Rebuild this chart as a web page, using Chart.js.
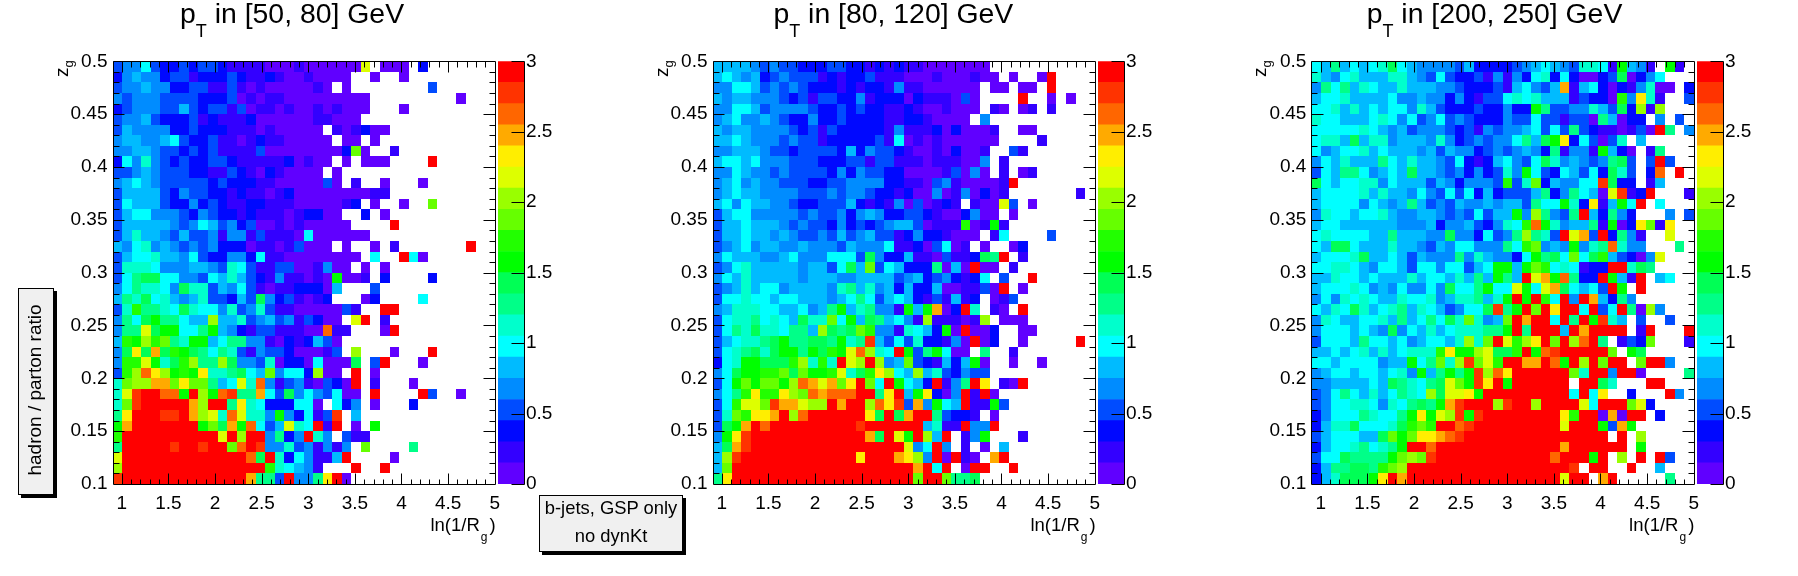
<!DOCTYPE html>
<html><head><meta charset="utf-8">
<script src="https://cdn.jsdelivr.net/npm/chart.js@4"></script>
<style>
html,body{margin:0;padding:0;background:#fff}
#page{position:relative;width:1798px;height:576px;overflow:hidden;font-family:"Liberation Sans",Arial,sans-serif;color:#000}
canvas{position:absolute}
.t{position:absolute;white-space:nowrap;line-height:1}
.box{position:absolute;background:#f0f0f0;border:1px solid #000;box-shadow:3px 3px 0 #000;box-sizing:border-box}
</style></head><body><div id="page"></div>
<script>
// Palette bands of the z scale, bottom to top
const bandColors=["#6000ff","#3300ff","#0008ff","#004cff","#008cff","#00bbff","#00ffff","#00ffcc","#00ff88","#00ff55","#00ff00","#22ff00","#66ff00","#99ff00","#ddff00","#ffee00","#ffaa00","#ff6600","#ff3300","#ff0000"];
const bandStep=0.15;
const bandCodes="0123456789abcdefghij";
const xTickLabels=[1,1.5,2,2.5,3,3.5,4,4.5,5];
const yTickLabels=[0.1,0.15,0.2,0.25,0.3,0.35,0.4,0.45,0.5];
const zTickLabels=[0,0.5,1,1.5,2,2.5,3];
const xRange=[0.9,5], yRange=[0.1,0.5], zRange=[0,3];
const nBins=40;

// Ratio read per cell, as a palette band code, one line per zg row from 0.5 down to 0.1; "." = empty
const rowsPt50=[
"3446322323 3211110001 000000e.00 0.2.......",
"2454423312 2232112100 1000 0..0.. 0.........",
"3445442233 1131010000 010.0..... ...3......",
"4344433332 2230101100 0000000... ......0...",
"2344433532 3313011010 0101000... 0.........",
"3445322231 2111200000 011000.... ..........",
"3544442232 2211101000 00.101200. ..........",
"4554456322 3110121100 000.00.0.. ..........",
"4455433232 3111130000 00002c0..1 ..........",
"2647432322 3321111120 100.0.000. ...j......",
"3345433322 1132102100 00.0...... ..........",
"4565433333 2322211000 0030.1..0. ..0.......",
"3555532433 2212110120 000000011. ..........",
"3655532242 3211221110 000012.0.. 0..c......",
"3566444324 3221211101 2200..2.0. ..........",
"3555554346 5342300101 00000....j ..........",
"3575543533 4144131110 6000000... ..........",
"5467454343 4222011013 000.0..0.1 .......j..",
"3566755463 2244261100 000000.6.. j60.......",
"3777644455 4376311330 01400.0.0. ..........",
"3689966443 6575321411 010a001.2. ...2......",
"4687764977 3546310112 2205...3.. ..........",
"5879675457 3325394231 012...02.. ..6.......",
"37b8876976 6473473110 000031..jj ..........",
"4869a88655 d557345341 3200.ej.1. ..........",
"488e9aa668 a542133111 00h11...0j ..........",
"5badbc87aa 5688441021 2530...... ..........",
"49f9g9ba98 6873143320 0013.d...0 ...j......",
"4bbea79bd8 8d94437022 060009.3j. ..0.......",
"3bdhfdabaf 778965c466 2d00.j.0.. ..........",
"7cddggcfcc 856e7h4134 10320j.1.. .0........",
"7eijjhhajd ahi88g6394 643600.j.. ..j3..0...",
"7cijjjjjgd jj8f762226 60.624.0.. .2........",
"8fjjjiijgd e7he774a42 613i.5.... ..........",
"agjjjjjjja c9gah635e7 6j1j.0.a.. ..........",
"bjjjjjjjjj jejdjj4824 j74.311... ..........",
"8jjjjjijji jjchji4473 41414.c... .8........",
"ejjjjjjjjj jjjjh9j726 4115j....0 ..........",
"djjjjjjjjj jjjjjjb765 41...j..j. ..........",
"ijjjjjjjjj jjjjg883j4 48fj0..... .........."
];
const rowsPt80=[
"5555434332 2233221212 110000000. ..........",
"5654523433 3121223111 0001000100 .0..0j....",
"4466534343 2221212214 11000000.0 0.00.j....",
"5455444323 1332241222 02111030.. ..j..0.0..",
"4466534444 3223232211 21001000.1 0.01.1....",
"4564454322 4223222211 2210000.4. ..........",
"5455444432 3132222214 1112020001 ..00......",
"5565444343 3122222316 0101000000 ....1.....",
"4455543323 3332524332 100102001. .31.......",
"5665644433 3222331331 110111004. 1.........",
"4465443433 3324243322 000013040. 1.01......",
"4564544333 2233444422 1103410000 1j........",
"4565544443 3343443221 2004014020 1.......1.",
"5646554432 2333521214 030121.100 e3.0......",
"3566444443 4334245422 3321002400 .0........",
"3556555434 3324232345 530111b01a 1.........",
"3556554543 3435345331 24221000.1 6....3....",
"3456455445 4443544461 1203601.0. .02.......",
"4655544564 4466639422 5110311298 j.1.......",
"3467555554 553695c365 2228050j00 .1........",
"4657555554 5554455553 452342126. 3..j......",
"3457566455 5547857452 5225001130 j.0.......",
"3667665665 5545686356 52131512.0 13........",
"4577766556 458a578441 a5ag02j7.1 0.j.......",
"3677867659 77c6a59856 41d11101d. 000.......",
"3687977688 5d989cb441 7652a0j002 ..00......",
"3567789a88 998a78i536 3722140j02 ..0.....j.",
"3678979aa8 a9baehd76j a38a600.8. .1........",
"267aa999bd 7b7jedjd45 c321525a0. .0..0.....",
"469aabbc9c aabe79bfd6 5d5732433. ..........",
"36acaccadh gegcfjc6ja 652j148jf. 10j.......",
"468bfbbfdc hghhhjj8fj 5af204j1j0 ..........",
"36beecigge ddjgjjdhfi 3g4a65j11a 3.........",
"37cbffgjdh jjjjjjf9j9 gjj83221.0 ..........",
"39agjhjjjj jjjjjijjjj jj5711j44j ..........",
"4afijjjjjj jjjjjjg9je ajd5j.14a. ..1.......",
"59gijjjjjj jjjjjjjjjj e46j4.1.0. 5.........",
"5dijjjjjjj jjjjjfjjjg fd4j0j10.g j.........",
"5cjjjjjjjj jjjjjjjjjj jgj6j.0jj. .j........",
"8fjjjjjjjj jjjjjjjjjj jcjjc889.. .........."
];
const rowsPt200=[
"6585656796 5444435222 2345654377 61a541.a1.",
"7546755577 5436322314 1426726200 2390246...",
"4868576557 5554432223 156435g156 20214700.2",
"5667555564 4544242133 6767555132 20b4f71..3",
"6675756566 4753222322 422a833447 5392d1d...",
"7665556764 6346343222 4336331330 85022.4.3.",
"6666676545 3444323143 4456363832 110130j8.4",
"6775957745 5547423434 46859af263 037.5.....",
"6456675655 5453544234 3454281441 a520.18...",
"4657555865 7554362125 6436974543 4893.3j3..",
"3658864565 9554342423 74a6326536 2973.2h.j.",
"9656677465 5535424443 b37c254466 i922.15...",
"5666675755 4643636252 3335824865 0ei12j...1",
"5666646545 8534354454 553866a72f 15a6j.6...",
"4766566754 4554343635 5a4d8438j5 2842...4.3",
"5665555554 4452445324 76bha74558 1a02fc1f..",
"6766665585 5544944263 48d873jeg3 j2841..e..",
"6599655575 5435466444 86bc454a47 8h744...8.",
"5666795565 3544484754 426a896c69 b53204e...",
"6677654665 366466356a a5acb67612 2jj798....",
"5576656555 756657585a 85jegah822 ja51j.56..",
"5666764546 44649668a6 6ea6eg9656 3ja.j.....",
"4647676557 6674577857 ajajb6j4jg 5284......",
"6576975678 576534669i 8ajcjfjj6j 36j80d4...",
"4765566758 568697c745 cjgjj6j8ja i75.3..3..",
"4666565494 6575677788 aj8jjj5jgj jjj.1j...j",
"3666586656 456657d7cj ebdfjcjdhj 8.132c...1",
"5565675756 777bfaade9 9bjahijjjj jc.a9.....",
"6656666455 a68c7diceb jjggjhajdj cjj.cjj4..",
"4566566567 4a58a8aidh fjjjjjjc7j j4jj0....8",
"4455556598 7689ecaifj ajjjjjj.jj 97...jj...",
"3468657568 76d9eefajj jjjjjjj6j6 f..2...j4.",
"3466776476 898agijjjd ijjdjjjje6 jjjce2....",
"2466687668 afaediaijj jjjjjjfbjj 0g0jj.2...",
"2577966679 bcbjjhijjj jjjjjjejjj a3ga......",
"35666559ca cffghijjjj jjjjjjjjjj j.j.d.....",
"256678678a jjhjjjjjjj jjjjjjgjjj jjj.a.....",
"36698888ac dcijjjjjjj jjjjjhjjja j.d.j.j3..",
"2588998bcd jjjjjjjjjj jjjjjjji.j j..j..5...",
"257999afjg jjjjjjjjjj jjjjjjejj. gj.....8.."
];

const xBin=(xRange[1]-xRange[0])/nBins, yBin=(yRange[1]-yRange[0])/nBins;
function toCells(rows){
  const pts=[];
  rows.forEach((line,r)=>{
    const s=line.replace(/\s/g,'');
    for(let c=0;c<nBins;c++){
      const k=bandCodes.indexOf(s[c]);
      if(k<0) continue;
      pts.push({x:xRange[0]+(c+0.5)*xBin,y:yRange[1]-(r+0.5)*yBin,v:(k+0.5)*bandStep});
    }
  });
  return pts;
}
function colorOf(v){return bandColors[Math.min(bandColors.length-1,Math.floor(v/bandStep))];}

const heatCells={id:'heatCells',beforeDatasetsDraw(chart){
  const {ctx,scales:{x,y}}=chart;
  ctx.save();
  chart.data.datasets[0].data.forEach(p=>{
    const x0=Math.round(x.getPixelForValue(p.x-xBin/2)),x1=Math.round(x.getPixelForValue(p.x+xBin/2));
    const y0=Math.round(y.getPixelForValue(p.y+yBin/2)),y1=Math.round(y.getPixelForValue(p.y-yBin/2));
    ctx.fillStyle=colorOf(p.v);
    ctx.fillRect(x0,y0,x1-x0,y1-y0);
  });
  ctx.restore();
}};
function line(ctx,a,b,c,d){ctx.moveTo(Math.round(a)+.5,Math.round(b)+.5);ctx.lineTo(Math.round(c)+.5,Math.round(d)+.5);}
const frameTicks={id:'frameTicks',afterDatasetsDraw(chart){
  const {ctx,chartArea:A,scales:{x,y}}=chart;
  ctx.save();ctx.strokeStyle='#000';ctx.lineWidth=1;ctx.beginPath();
  for(let i=1;i<=40;i++){
    const v=0.9+i*0.1;const isM=i%5===1; if(v>5.001)break;
    const px=x.getPixelForValue(v),L=isM?11:5.5;
    line(ctx,px,A.bottom,px,A.bottom-L);line(ctx,px,A.top,px,A.top+L);
  }
  for(let i=1;i<40;i++){
    const v=0.1+i*0.01,isM=i%5===0;const py=y.getPixelForValue(v),L=isM?11.5:6;
    line(ctx,A.left,py,A.left+L,py);line(ctx,A.right,py,A.right-L,py);
  }
  line(ctx,A.left,A.top,A.right,A.top);line(ctx,A.right,A.top,A.right,A.bottom);
  line(ctx,A.right,A.bottom,A.left,A.bottom);line(ctx,A.left,A.bottom,A.left,A.top);
  ctx.stroke();ctx.restore();
}};
const barTicks={id:'barTicks',afterDatasetsDraw(chart){
  const {ctx,chartArea:A,scales:{y}}=chart;
  ctx.save();ctx.strokeStyle='#000';ctx.beginPath();
  line(ctx,A.right,A.top,A.right,A.bottom);
  zTickLabels.forEach(v=>{const py=y.getPixelForValue(v);line(ctx,A.right,py,A.right-13,py);});
  ctx.stroke();ctx.restore();
}};
const tickFont={family:'"Liberation Sans",Arial,sans-serif',size:19};
const page=document.getElementById('page');

function addCanvas(l,t,w,h){const c=document.createElement('canvas');c.width=w;c.height=h;c.style.left=l+'px';c.style.top=t+'px';c.style.width=w+'px';c.style.height=h+'px';page.appendChild(c);return c;}

function panel(cfg){
  const cx=Math.floor(cfg.left)-60, axisW=48, axisH=40, H=545;
  const W=Math.ceil(cfg.right)-cx+12;
  new Chart(addCanvas(cx,0,W,H),{
    type:'scatter',
    data:{datasets:[{label:cfg.title,data:toCells(cfg.rows),pointRadius:0,showLine:false}]},
    plugins:[heatCells,frameTicks],
    options:{responsive:false,animation:false,events:[],clip:false,
      layout:{padding:{left:cfg.left-cx-axisW,right:W-(cfg.right-cx),top:cfg.top,bottom:H-cfg.bottom-axisH}},
      plugins:{legend:{display:false},tooltip:{enabled:false},title:{display:false}},
      scales:{
        x:{type:'linear',min:xRange[0],max:xRange[1],grid:{display:false,drawTicks:false},border:{display:false},
          afterBuildTicks(s){s.ticks=xTickLabels.map(value=>({value}));},
          afterFit(s){s.height=axisH;},
          ticks:{color:'#000',font:tickFont,padding:8,maxRotation:0,autoSkip:false,callback:v=>String(v)}},
        y:{type:'linear',min:yRange[0],max:yRange[1],grid:{display:false,drawTicks:false},border:{display:false},
          afterBuildTicks(s){s.ticks=yTickLabels.map(value=>({value}));},
          afterFit(s){s.width=axisW;},
          ticks:{color:'#000',font:tickFont,padding:5,autoSkip:false,callback:v=>String(v)}}
      }}
  });
  // colour scale
  const bx=cfg.barLeft-1, bW=cfg.barRight-bx+45;
  new Chart(addCanvas(bx,0,bW,H),{
    type:'bar',
    data:{labels:[''],datasets:bandColors.map(c=>({data:[bandStep],backgroundColor:c,borderWidth:0,stack:'z',barPercentage:1,categoryPercentage:1}))},
    plugins:[barTicks],
    options:{responsive:false,animation:false,events:[],
      layout:{padding:{left:1,right:0,top:cfg.top,bottom:H-cfg.bottom}},
      plugins:{legend:{display:false},tooltip:{enabled:false}},
      scales:{
        x:{display:false,stacked:true},
        y:{type:'linear',position:'right',stacked:true,min:zRange[0],max:zRange[1],grid:{display:false,drawTicks:false},border:{display:false},
          afterBuildTicks(s){s.ticks=zTickLabels.map(value=>({value}));},
          afterFit(s){s.width=bW-1-(cfg.barRight-cfg.barLeft);},
          ticks:{color:'#000',font:tickFont,padding:2,autoSkip:false,callback:v=>String(v)}}
      }}
  });
  // texts
  addText(cfg.titleLeft,22.7,28.4,`p<span style="font-size:18px;position:relative;top:14px">T</span> in ${cfg.title} GeV`);
  addText(cfg.right,531.7,18.5,`ln(1/R<span style="font-size:12px;position:relative;top:10px;margin:0 2px 0 1px">g</span>)`,'right');
  const z=document.createElement('div');z.className='t';z.style.cssText+=`left:${cfg.left-45}px;top:76.7px;font-size:19px;transform-origin:0 0;transform:rotate(-90deg) translateY(-16px);`;
  z.innerHTML=`z<span style="font-size:13px;position:relative;top:5px">g</span>`;page.appendChild(z);
}
function addText(x,base,size,html,anchor){
  const d=document.createElement('div');d.className='t';d.style.fontSize=size+'px';
  d.style.top=(base-0.8465*size)+'px';
  if(anchor==='right'){d.style.right=(1798-x)+'px';}
  else if(anchor==='center'){d.style.left=x+'px';d.style.transform='translateX(-50%)';}
  else d.style.left=x+'px';
  d.innerHTML=html;page.appendChild(d);return d;
}
panel({rows:rowsPt50,title:'[50, 80]',left:112.5,right:495.6,top:61.3,bottom:484,barLeft:498,barRight:524,titleLeft:180});
panel({rows:rowsPt80,title:'[80, 120]',left:712.5,right:1095.6,top:61.3,bottom:484,barLeft:1098,barRight:1124,titleLeft:773.4});
panel({rows:rowsPt200,title:'[200, 250]',left:1311.4,right:1694.3,top:61.3,bottom:484,barLeft:1697,barRight:1723,titleLeft:1366.7});

// Annotation boxes
const b1=document.createElement('div');b1.className='box';b1.style.cssText+='left:18px;top:288px;width:36px;height:207px;';page.appendChild(b1);
const r=document.createElement('div');r.className='t';r.textContent='hadron / parton ratio';
r.style.cssText+='left:41px;top:390px;font-size:19px;transform-origin:0 0;transform:rotate(-90deg) translate(-50%,-84.65%);';
page.appendChild(r);
const b2=document.createElement('div');b2.className='box';b2.style.cssText+='left:539px;top:495px;width:144px;height:57px;';page.appendChild(b2);
addText(611,515,18.4,'b-jets, GSP only','center');
addText(611,543,18.4,'no dynKt','center');
</script></body></html>
